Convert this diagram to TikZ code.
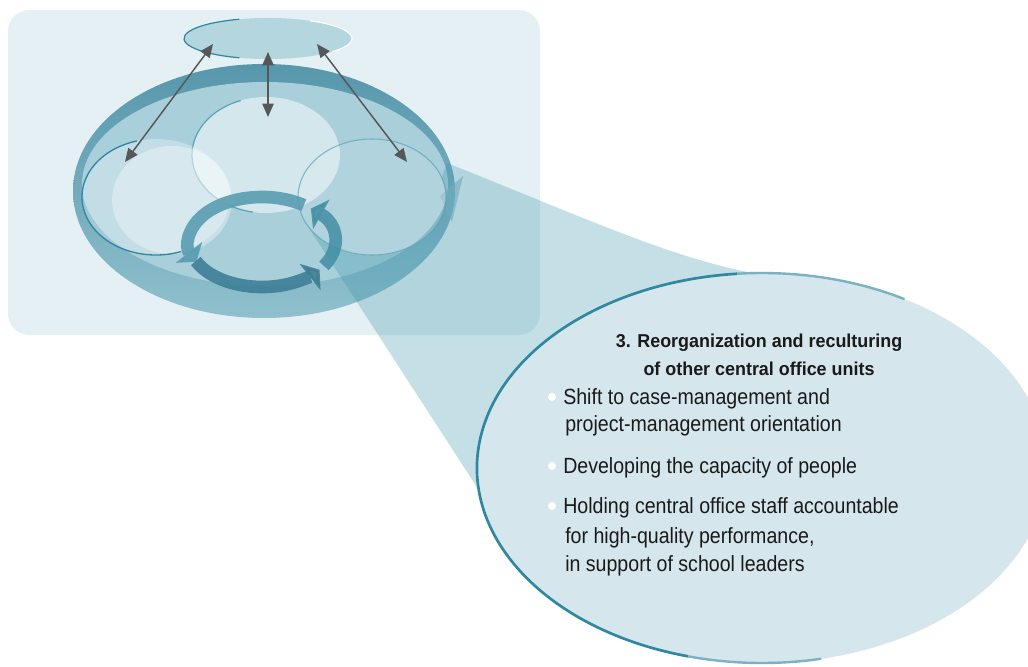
\documentclass[tikz,border=0pt]{standalone}
\usepackage{fontspec}
\setmainfont{Liberation Sans}
\newfontfamily\bodyfont{Liberation Sans}[FakeStretch=0.89]
\newfontfamily\headfont{Liberation Sans}[FakeStretch=0.96]
\usetikzlibrary{arrows.meta}
\definecolor{bgc}{HTML}{E4F0F3}
\definecolor{bandtop}{HTML}{5797AC}
\definecolor{bandbot}{HTML}{90C0CD}
\definecolor{interior}{HTML}{A9CFDA}
\definecolor{tealdark}{HTML}{2F87A0}
\definecolor{tealmid}{HTML}{5AA2B5}
\definecolor{wedgec}{HTML}{3E94AC}
\definecolor{calloutc}{HTML}{D5E6EC}
\definecolor{topell}{HTML}{B3D6DF}
\definecolor{arrgray}{HTML}{555759}
\definecolor{cycA}{HTML}{5C9EB2}
\definecolor{cycB}{HTML}{3F8098}
\definecolor{cycC}{HTML}{4A92A8}
\definecolor{textc}{HTML}{1A1A1A}
\tikzset{
  dbl/.style={{Triangle[length=10pt,width=8.5pt]}-{Triangle[length=10pt,width=8.5pt]}, line width=1.1pt, draw=arrgray},
  cyc/.style={line width=9.5pt, opacity=0.92},
  body/.style={font=\bodyfont\fontsize{16.5pt}{20pt}\selectfont, text=textc, inner sep=0pt, anchor=base west},
  head/.style={font=\headfont\bfseries\fontsize{14pt}{17pt}\selectfont, text=textc, inner sep=0pt, anchor=base},
}
\begin{document}
\begin{tikzpicture}[x=0.75pt,y=-0.75pt]
\useasboundingbox (0,0) rectangle (1028,667);
\clip (0,0) rectangle (1028,667);
% background panel
\fill[bgc, rounded corners=16pt] (8,10) rectangle (540,335);
% bowl band and interior
\shade[top color=bandtop, bottom color=bandbot] (264,191) ellipse [x radius=191, y radius=127];
\fill[interior] (265,184) ellipse [x radius=183, y radius=102];
% tail of band at right
\fill[bandtop!70!white, opacity=0.6] (440,196) -- (463,176) -- (452,222) -- cycle;
% three circles
\fill[white, opacity=0.5] (266,155) ellipse [x radius=74, y radius=58];
\draw[tealmid, line width=0.9pt] (266,155) ++(100:74 and 58) arc[start angle=100, end angle=250, x radius=74, y radius=58];
\fill[white, opacity=0.3] (156,197) ellipse [x radius=74, y radius=58];
\fill[white, opacity=0.35] (172,200) ellipse [x radius=60, y radius=54];
\draw[tealdark, line width=1pt] (156,197) ++(70:74 and 58) arc[start angle=70, end angle=255, x radius=74, y radius=58];
\fill[white, opacity=0.1] (372,197) ellipse [x radius=74, y radius=58];
\draw[tealmid, line width=0.8pt, opacity=0.7] (372,197) ellipse [x radius=74, y radius=58];
% cycle arrows
\draw[cyc, cycA, -{Triangle[length=9pt,width=25pt]}] (262,242) ++(-55:73 and 45) arc[start angle=-55, end angle=-206, x radius=73, y radius=45];
\draw[cyc, cycC, -{Triangle[length=9pt,width=25pt]}] (262,242) ++(32:73 and 45) arc[start angle=32, end angle=-48, x radius=73, y radius=45];
\draw[cyc, cycB, -{Triangle[length=9pt,width=25pt]}] (262,242) ++(155:73 and 45) arc[start angle=155, end angle=38, x radius=73, y radius=45];
% top ellipse
\fill[topell] (268,38.5) ellipse [x radius=84, y radius=20.5];
\draw[tealdark, line width=0.9pt] (268,38.5) ++(110:84 and 20.5) arc[start angle=110, end angle=250, x radius=84, y radius=20.5];
\draw[white, line width=0.9pt] (268,38.5) ++(-60:84 and 20.5) arc[start angle=-60, end angle=40, x radius=84, y radius=20.5];
% double arrows
\coordinate (L1) at (213,44); \coordinate (L2) at (125,162);
\coordinate (M1) at (268,52); \coordinate (M2) at (268,117);
\coordinate (R1) at (317,44); \coordinate (R2) at (407,162);
\draw[dbl] (L1) -- (L2);
\draw[dbl] (M1) -- (M2);
\draw[dbl] (R1) -- (R2);
% callout wedge
\fill[wedgec, opacity=0.3] (305,222) arc[start angle=155, end angle=-20, x radius=74, y radius=58]
  -- (447,163) .. controls (600,224) and (680,262) .. (770,276) -- (620,420) -- (482,495) -- cycle;
% callout ellipse
\fill[calloutc] (762,468) ellipse [x radius=285, y radius=195];
\draw[tealdark, line width=2pt] (762,468) ++(105:285 and 195) arc[start angle=105, end angle=265, x radius=285, y radius=195];
\draw[tealdark!55!calloutc, line width=1.8pt] (762,468) ++(265:285 and 195) arc[start angle=265, end angle=300, x radius=285, y radius=195];
\draw[tealdark!55!calloutc, line width=1.8pt] (762,468) ++(105:285 and 195) arc[start angle=105, end angle=78, x radius=285, y radius=195];
% text
\node[head] (h1) at (759,347) {3. Reorganization and reculturing};
\node[head] (h2) at (759,375) {of other central office units};
\fill[white] (552,397) circle[radius=4];
\node[body] (b1) at (563,404) {Shift to case-management and};
\node[body] (b1b) at (565,431) {project-management orientation};
\fill[white] (552,466) circle[radius=4];
\node[body] (b2) at (563,473) {Developing the capacity of people};
\fill[white] (552,506) circle[radius=4];
\node[body] (b3) at (563,513) {Holding central office staff accountable};
\node[body] (b3b) at (565,543) {for high-quality performance,};
\node[body] (b3c) at (565,571) {in support of school leaders};
\end{tikzpicture}
\end{document}
